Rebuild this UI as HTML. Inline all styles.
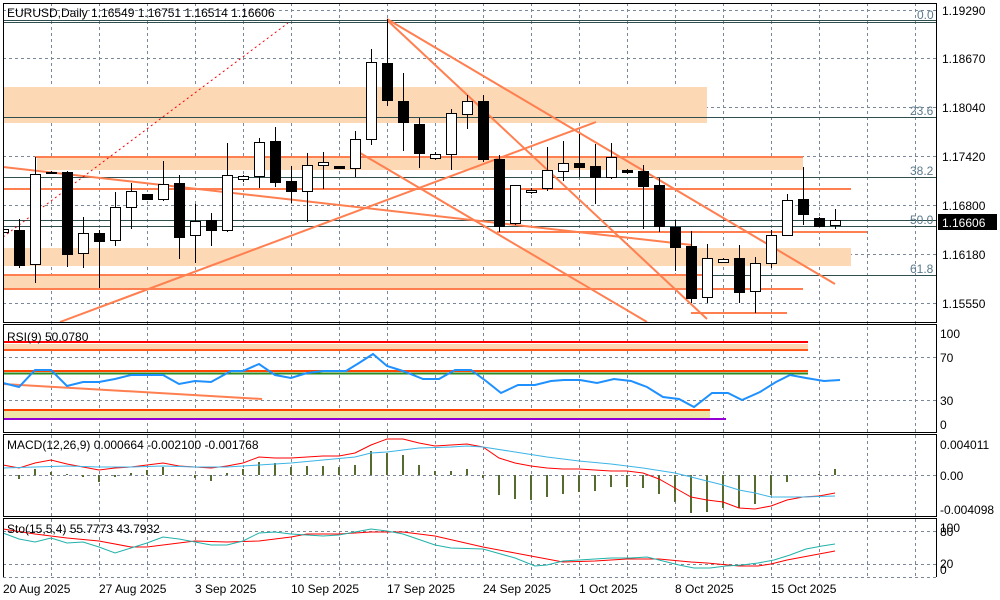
<!DOCTYPE html>
<html><head><meta charset="utf-8"><style>
html,body{margin:0;padding:0;background:#fff;}
svg{display:block;font-family:"Liberation Sans",sans-serif;font-size:12px;}
</style></head><body>
<svg width="1000" height="600" viewBox="0 0 1000 600" xmlns="http://www.w3.org/2000/svg">
<defs>
<clipPath id="cm"><rect x="3" y="3" width="934" height="319"/></clipPath>
<clipPath id="cr"><rect x="3" y="324" width="934" height="108"/></clipPath>
</defs>
<rect width="1000" height="600" fill="#fff"/>
<!-- vertical grid -->
<g stroke="#7a8798" stroke-dasharray="3,3" stroke-width="1">
<path d="M51.5 3V577M99.5 3V577M147.5 3V577M195.5 3V577M243.5 3V577M291.5 3V577M339.5 3V577M387.5 3V577M435.5 3V577M483.5 3V577M531.5 3V577M579.5 3V577M627.5 3V577M675.5 3V577M723.5 3V577M771.5 3V577M819.5 3V577M867.5 3V577M915.5 3V577"/>
<path d="M3 10.5H937M3 58.5H937M3 107.5H937M3 156.5H937M3 205.5H937M3 254.5H937M3 303.5H937"/>
<path d="M3 357.5H937M3 400.5H937M3 475.5H937M3 531.5H937M3 564.5H937"/>
</g>
<g clip-path="url(#cm)">
<!-- bands -->
<g fill="#fdd8b5">
<rect x="3" y="87" width="704" height="36"/>
<rect x="37" y="158" width="766" height="12"/>
<rect x="3" y="248" width="848" height="18"/>
<rect x="3" y="276" width="686" height="13"/>
</g>
<!-- fib lines -->
<g stroke="#2f4f4f" stroke-width="1">
<path d="M3 20.5H937M3 22.5H937M3 117.5H937M3 177.5H937M3 220.5H937M3 226.5H937M3 275.5H937"/>
</g>
<!-- orange lines -->
<g stroke="#ff7f50" stroke-width="2" fill="none">
<path d="M35 157H803M3 189H851M497 232H867M3 275H707M3 289H803M691 313H787"/>
<path d="M3 167L692 245"/>
<path d="M60 322L596 122"/>
<path d="M387 19L835 284"/>
<path d="M387 20L707 319"/>
<path d="M355 150L647 322"/>
</g>
<path d="M3 237L288 23" stroke="#ff0000" stroke-width="1" stroke-dasharray="2,3"/>
<!-- candles -->
<g stroke="#000" stroke-width="1">
<path d="M3.5 210V252M19.5 219V268M35.5 157V283M51.5 171V174M67.5 171V267M83.5 217V268M99.5 230V288M115.5 192V246M131.5 183V229M147.5 194V199M163.5 161V201M179.5 175V259M195.5 204V263M211.5 213V246M227.5 143V232M243.5 175V182M259.5 138V188M275.5 127V187M291.5 166V203M307.5 153V222M323.5 152V189M339.5 166V168M355.5 131V177M371.5 49V145M387.5 19V106M403.5 73V151M419.5 118V168M435.5 152V160M451.5 109V170M467.5 95V129M483.5 95V162M499.5 155V232M515.5 185V225M531.5 188V194M547.5 147V191M563.5 141V181M579.5 134V177M595.5 144V204M611.5 143V179M627.5 169V174M643.5 165V229M659.5 178V232M675.5 220V271M691.5 231V303M707.5 244V303M723.5 258V263M739.5 245V303M755.5 257V313M771.5 230V268M787.5 194V235M803.5 167V225M819.5 217V226M835.5 209V229"/>
</g>
<g fill="#000" stroke="#000">
<rect x="14.5" y="230.5" width="10" height="35"/>
<rect x="62.5" y="172.5" width="10" height="82"/>
<rect x="94.5" y="233.5" width="10" height="8"/>
<rect x="142.5" y="194.5" width="10" height="5"/>
<rect x="174.5" y="183.5" width="10" height="54"/>
<rect x="206.5" y="220.5" width="10" height="10"/>
<rect x="270.5" y="141.5" width="10" height="41"/>
<rect x="286.5" y="181.5" width="10" height="10"/>
<rect x="334.5" y="166.5" width="10" height="2"/>
<rect x="382.5" y="63.5" width="10" height="37"/>
<rect x="398.5" y="101.5" width="10" height="21"/>
<rect x="414.5" y="124.5" width="10" height="29"/>
<rect x="478.5" y="101.5" width="10" height="58"/>
<rect x="494.5" y="159.5" width="10" height="67"/>
<rect x="574.5" y="163.5" width="10" height="4"/>
<rect x="590.5" y="166.5" width="10" height="11"/>
<rect x="622.5" y="170.5" width="10" height="2"/>
<rect x="638.5" y="171.5" width="10" height="15"/>
<rect x="654.5" y="185.5" width="10" height="41"/>
<rect x="670.5" y="227.5" width="10" height="20"/>
<rect x="686.5" y="246.5" width="10" height="52"/>
<rect x="734.5" y="258.5" width="10" height="34"/>
<rect x="798.5" y="199.5" width="10" height="15"/>
<rect x="814.5" y="218.5" width="10" height="8"/>
</g>
<g fill="#fff" stroke="#000">
<rect x="-1.5" y="229.5" width="10" height="3"/>
<rect x="30.5" y="174.5" width="10" height="90"/>
<rect x="46.5" y="172.5" width="10" height="1"/>
<rect x="78.5" y="233.5" width="10" height="20"/>
<rect x="110.5" y="207.5" width="10" height="33"/>
<rect x="126.5" y="191.5" width="10" height="16"/>
<rect x="158.5" y="184.5" width="10" height="15"/>
<rect x="190.5" y="221.5" width="10" height="14"/>
<rect x="222.5" y="175.5" width="10" height="55"/>
<rect x="238.5" y="176.5" width="10" height="3"/>
<rect x="254.5" y="142.5" width="10" height="34"/>
<rect x="302.5" y="165.5" width="10" height="26"/>
<rect x="318.5" y="162.5" width="10" height="3"/>
<rect x="350.5" y="139.5" width="10" height="29"/>
<rect x="366.5" y="62.5" width="10" height="77"/>
<rect x="430.5" y="154.5" width="10" height="4"/>
<rect x="446.5" y="113.5" width="10" height="41"/>
<rect x="462.5" y="101.5" width="10" height="13"/>
<rect x="510.5" y="185.5" width="10" height="38"/>
<rect x="526.5" y="190.5" width="10" height="2"/>
<rect x="542.5" y="170.5" width="10" height="18"/>
<rect x="558.5" y="163.5" width="10" height="8"/>
<rect x="606.5" y="157.5" width="10" height="20"/>
<rect x="702.5" y="258.5" width="10" height="39"/>
<rect x="718.5" y="259.5" width="10" height="3"/>
<rect x="750.5" y="263.5" width="10" height="28"/>
<rect x="766.5" y="235.5" width="10" height="28"/>
<rect x="782.5" y="200.5" width="10" height="35"/>
<rect x="830.5" y="220.5" width="10" height="5"/>
</g>
</g>
<!-- fib labels -->
<g fill="#5b7a8c" font-size="12">
<text x="917" y="19">0.0</text>
<text x="910" y="115">23.6</text>
<text x="910" y="175">38.2</text>
<text x="910" y="224">50.0</text>
<text x="910" y="273">61.8</text>
</g>
<text x="7" y="17" fill="#000">EURUSD,Daily  1.16549 1.16751 1.16514 1.16606</text>
<!-- RSI panel -->
<g clip-path="url(#cr)">
<rect x="3" y="344" width="805" height="5" fill="#fdd8b5"/>
<path d="M3 342H808" stroke="#ff0000" stroke-width="2"/>
<path d="M3 350H808" stroke="#ff5a1e" stroke-width="2"/>
<path d="M3 371H808" stroke="#ff4500" stroke-width="2"/>
<path d="M3 373.5H808" stroke="#2e8b22" stroke-width="2"/>
<rect x="3" y="411" width="707" height="7" fill="#eee6a6"/>
<path d="M3 410H710" stroke="#ff4500" stroke-width="2"/>
<path d="M3 419H726" stroke="#9400d3" stroke-width="2"/>
<path d="M3 384L262 399" stroke="#ff7f50" stroke-width="2"/>
<polyline fill="none" stroke="#1e90ff" stroke-width="2" points="3,383 19,387 35,370 51,370 67,386 83,382 99,382 115,379 131,375 147,375 163,375 179,384 195,381 211,382 231,371 243,371 259,364 275,375 291,378 307,373 323,371 346,371 359,363 373,354 387,366 403,371 423,379 439,379 455,370 471,370 486,381 501,393 518,385 535,385 551,381 564,380 580,380 597,383 614,379 631,381 647,387 663,397 679,399 694,407 712,393 728,393 742,400 760,392 776,382 790,375 806,378 824,381 840,380"/>
</g>
<text x="7" y="341" fill="#000">RSI(9) 50.0780</text>
<!-- MACD -->
<g stroke="#556b2f" stroke-width="2">
<path d="M19 475V479M35 475V469M51 475V472M67 475V474M83 475V477M99 475V482M115 475V477M131 475V473M147 475V470M163 475V467M179 475V476M195 475V478M211 475V481M227 475V473M243 475V469M259 475V462M275 475V463M291 475V467M307 475V466M323 475V466M339 475V467M355 475V465M371 475V451M387 475V453M403 475V455M419 475V465M435 475V471M451 475V471M467 475V469M483 475V478M499 475V495M515 475V499M531 475V500M547 475V497M563 475V494M579 475V492M595 475V491M611 475V487M627 475V487M643 475V488M659 475V494M675 475V502M691 475V513M707 475V512M723 475V508M739 475V508M755 475V504M771 475V495M787 475V482M803 475V475M819 475V474M835 475V469"/>
</g>
<polyline fill="none" stroke="#ff0000" stroke-width="1" points="3,465 19,468 35,463 51,460 67,464 83,467 99,470 115,468 131,467 147,465 163,463 179,466 195,467 211,468 227,466 243,463 259,457 275,458 291,458 307,457 323,456 339,456 355,453 371,445 387,439 403,439 419,443 435,446 451,445 467,444 483,447 499,458 515,463 531,466 547,468 563,469 579,469 595,470 611,471 627,471 643,473 659,479 675,488 691,497 707,500 723,502 739,508 755,509 771,506 787,500 803,497 819,496 835,493"/>
<polyline fill="none" stroke="#3cb4e6" stroke-width="1" points="3,468 35,467 67,466 99,467 131,467 163,466 195,467 227,467 259,465 291,463 323,460 355,457 371,453 387,452 419,448 451,447 467,446 483,447 515,452 547,457 579,461 611,464 643,468 675,473 691,477 707,481 723,485 739,490 755,493 771,497 803,497 835,496"/>
<text x="7" y="449" fill="#000">MACD(12,26,9) 0.000664 -0.002100 -0.001768</text>
<!-- Stochastic -->
<polyline fill="none" stroke="#ff0000" stroke-width="1" points="3,529 35,534 67,538 99,541 131,547 147,547 195,541 227,542 259,541 291,537 307,534 339,534 371,532 403,532 435,536 483,547 515,553 547,559 563,562 595,561 627,559 659,559 691,562 707,563 739,566 758,566 771,564 787,560 803,557 819,554 835,551"/>
<polyline fill="none" stroke="#20b2aa" stroke-width="1" points="3,533 19,539 35,542 51,538 67,543 83,542 99,547 115,553 131,548 147,543 163,537 179,539 211,545 227,545 243,541 259,533 275,532 291,534 307,535 323,536 339,535 355,532 371,529 387,531 403,534 435,545 451,548 483,549 515,558 535,566 547,565 563,561 579,560 611,558 631,558 647,557 663,561 679,565 694,568 710,568 726,566 742,565 758,563 774,560 790,555 806,549 822,546 835,544"/>
<text x="7" y="533" fill="#000">Sto(15,5,4) 55.7773 43.7932</text>
<!-- panel borders -->
<g fill="none" stroke="#000" stroke-width="1">
<rect x="3.5" y="3.5" width="933" height="319"/>
<rect x="3.5" y="324.5" width="933" height="108"/>
<rect x="3.5" y="434.5" width="933" height="82"/>
<path d="M3.5 577V518.5H936.5V577"/>
</g>
<path d="M3 577.5H937" stroke="#7a8798" stroke-dasharray="3,3"/>
<!-- axis labels -->
<g fill="#000" font-size="12">
<text x="942" y="15">1.19290</text>
<text x="942" y="63">1.18670</text>
<text x="942" y="112">1.18040</text>
<text x="942" y="161">1.17420</text>
<text x="942" y="210">1.16800</text>
<text x="942" y="259">1.16180</text>
<text x="942" y="308">1.15550</text>
<text x="940" y="338">100</text>
<text x="940" y="362">70</text>
<text x="940" y="405">30</text>
<text x="940" y="429">0</text>
<text x="940" y="449">0.004011</text>
<text x="940" y="480">0.00</text>
<text x="940" y="514">-0.004098</text>
<text x="940" y="532">100</text>
<text x="940" y="536">80</text>
<text x="940" y="568">20</text>
<text x="940" y="574">0</text>
</g>
<rect x="938" y="214" width="59" height="16" fill="#000"/>
<text x="942" y="227" fill="#fff">1.16606</text>
<g fill="#000" font-size="12">
<text x="3" y="593">20 Aug 2025</text>
<text x="99" y="593">27 Aug 2025</text>
<text x="195" y="593">3 Sep 2025</text>
<text x="291" y="593">10 Sep 2025</text>
<text x="387" y="593">17 Sep 2025</text>
<text x="483" y="593">24 Sep 2025</text>
<text x="579" y="593">1 Oct 2025</text>
<text x="675" y="593">8 Oct 2025</text>
<text x="771" y="593">15 Oct 2025</text>
</g>
</svg>
</body></html>
